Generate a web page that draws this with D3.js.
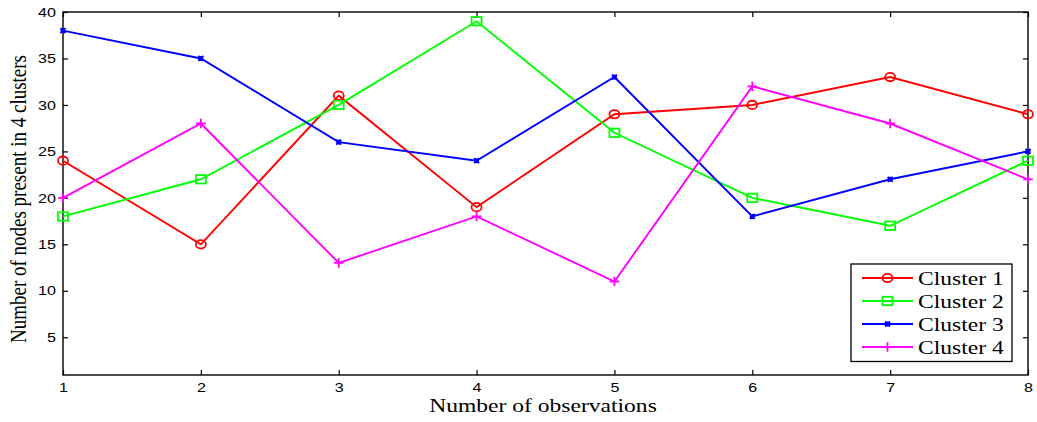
<!DOCTYPE html>
<html><head><meta charset="utf-8">
<script src="https://cdn.jsdelivr.net/npm/d3@7"></script>
<style>body{margin:0;background:#fff}</style>
</head><body>
<svg id="c" width="1037" height="422"></svg>
<script>
const observations = [1,2,3,4,5,6,7,8];
const cluster1 = [24,15,31,19,29,30,33,29];
const cluster2 = [18,22,30,39,27,20,17,24];
const cluster3 = [38,35,26,24,33,18,22,25];
const cluster4 = [20,28,13,18,11,32,28,22];
const seriesNames = ["Cluster 1","Cluster 2","Cluster 3","Cluster 4"];
const seriesColors = ["#ff0000","#00ff00","#0000ff","#ff00ff"];
const seriesMarkers = ["circle","square","star","plus"];
const yTicks = [5,10,15,20,25,30,35,40];

const SX = 1.24; // horizontal stretch of the original figure
const svg = d3.select("#c");
const L=63, R=1028, T=12, B=375;
const x = d3.scaleLinear().domain([1,8]).range([L,R]);
const y = d3.scaleLinear().domain([0.94,40]).range([B,T]);

const g = svg.append("g");
g.append("rect").attr("x",L).attr("y",T).attr("width",R-L).attr("height",B-T)
 .attr("fill","none").attr("stroke","#000").attr("stroke-width",1.4);

const tickFont = "Arial, 'Liberation Sans', sans-serif";
const xb = g.append("g").attr("transform",`translate(0,${B})`)
 .call(d3.axisBottom(x).tickValues(observations).tickSize(-5).tickPadding(8).tickFormat(d3.format("d")));
const xt = g.append("g").attr("transform",`translate(0,${T})`)
 .call(d3.axisTop(x).tickValues(observations).tickSize(-5).tickFormat(""));
const yl = g.append("g").attr("transform",`translate(${L},0)`)
 .call(d3.axisLeft(y).tickValues(yTicks).tickSize(-5).tickPadding(7));
const yr = g.append("g").attr("transform",`translate(${R},0)`)
 .call(d3.axisRight(y).tickValues(yTicks).tickSize(-5).tickFormat(""));
[xb,xt,yl,yr].forEach(a=>{
  a.select(".domain").remove();
  a.selectAll("line").attr("stroke","#000").attr("stroke-width",1.2);
  a.selectAll("text").attr("font-family",tickFont).attr("font-size",13).attr("fill","#000");
});
// stretch tick labels horizontally
xb.selectAll(".tick text").each(function(){
  const t=d3.select(this); const yy=+t.attr("y");
  t.attr("transform",`scale(${SX},1)`).attr("x",0);
});
yl.selectAll(".tick text").each(function(){
  const t=d3.select(this); const xx=+t.attr("x");
  t.attr("x", xx/SX).attr("transform",`scale(${SX},1)`);
});

const all = [cluster1,cluster2,cluster3,cluster4];
const line = d3.line().x((d,i)=>x(observations[i])).y(d=>y(d));

function marker(sel, type, color, cx, cy){
  if(type==="circle"){
    sel.append("ellipse").attr("cx",cx).attr("cy",cy).attr("rx",5).attr("ry",4.2)
      .attr("fill","none").attr("stroke",color).attr("stroke-width",1.8);
  } else if(type==="square"){
    sel.append("rect").attr("x",cx-5).attr("y",cy-4.2).attr("width",10).attr("height",8.4)
      .attr("fill","none").attr("stroke",color).attr("stroke-width",1.8);
  } else if(type==="star"){
    const s=2.5;
    sel.append("path").attr("d",`M${cx-s},${cy-s}L${cx+s},${cy+s}M${cx-s},${cy+s}L${cx+s},${cy-s}M${cx},${cy-s}L${cx},${cy+s}M${cx-s},${cy}L${cx+s},${cy}`)
      .attr("stroke",color).attr("stroke-width",1.8);
  } else {
    const s=4.8;
    sel.append("path").attr("d",`M${cx-s},${cy}L${cx+s},${cy}M${cx},${cy-s}L${cx},${cy+s}`)
      .attr("stroke",color).attr("stroke-width",1.8);
  }
}

all.forEach((data,k)=>{
  const sg = g.append("g");
  sg.append("path").datum(data).attr("d",line).attr("fill","none")
    .attr("stroke",seriesColors[k]).attr("stroke-width",1.9);
  data.forEach((d,i)=>marker(sg, seriesMarkers[k], seriesColors[k], x(observations[i]), y(d)));
});

const serif = "'Liberation Serif','Times New Roman',serif";
// legend
const lg = g.append("g");
lg.append("rect").attr("x",851).attr("y",264).attr("width",161).attr("height",97.5)
  .attr("fill","#fff").attr("stroke","#000").attr("stroke-width",1.3);
seriesNames.forEach((n,k)=>{
  const yy = 278 + k*23;
  lg.append("line").attr("x1",862).attr("x2",913).attr("y1",yy).attr("y2",yy)
    .attr("stroke",seriesColors[k]).attr("stroke-width",1.9);
  marker(lg, seriesMarkers[k], seriesColors[k], 887.5, yy);
  lg.append("text").attr("transform",`translate(918,${yy+6.5}) scale(${SX},1)`).text(n)
    .attr("font-family",serif).attr("font-size",19).attr("fill","#000");
});

// axis labels
svg.append("text").attr("transform",`translate(543,412) scale(${SX},1)`).attr("text-anchor","middle")
  .attr("font-family",serif).attr("font-size",19)
  .text("Number of observations");
svg.append("text").attr("transform",`translate(26,199) scale(${SX},1) rotate(-90)`).attr("text-anchor","middle")
  .attr("font-family",serif).attr("font-size",19)
  .text("Number of nodes present in 4 clusters");
</script>
</body></html>
